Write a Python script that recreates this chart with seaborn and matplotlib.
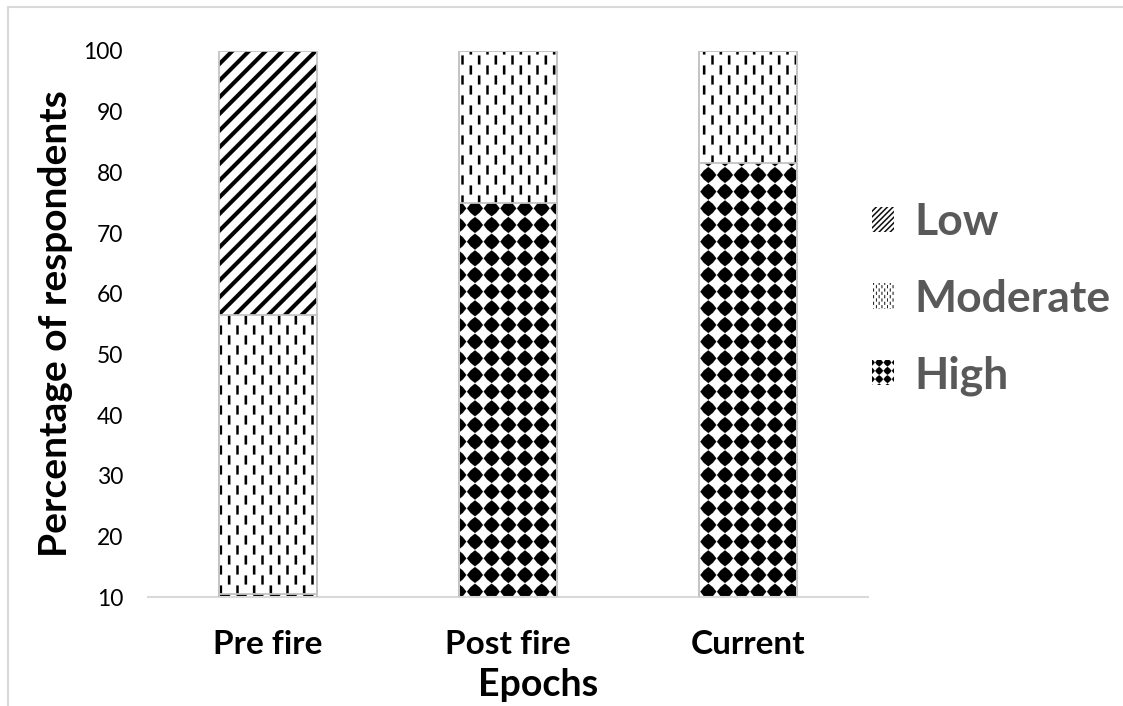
import numpy as np
import pandas as pd
import matplotlib
matplotlib.use("Agg")
import matplotlib.pyplot as plt
import matplotlib.hatch as mhatch
from matplotlib.path import Path
from matplotlib.patches import Patch, Rectangle
import seaborn as sns

# ---- data -------------------------------------------------------------
epochs = ["Pre fire", "Post fire", "Current"]
high = [10.5, 75.0, 81.5]
moderate = [46.0, 25.0, 18.5]
low = [43.5, 0.0, 0.0]
levels = ["Low", "Moderate", "High"]
y_ticks = [10, 20, 30, 40, 50, 60, 70, 80, 90, 100]


# ---- fill patterns (wide diagonal, dashed vertical, solid diamond) ----
class _TilePattern(mhatch.HatchPatternBase):
    """Filled polygons tiled inside the unit hatch cell."""
    char = None

    def __init__(self, hatch, density):
        reps = hatch.count(self.char)
        self.polys = self.build(reps) if reps else []
        self.num_vertices = sum(len(p) + 1 for p in self.polys)

    def build(self, reps):
        return []

    def set_vertices_and_codes(self, vertices, codes):
        i = 0
        for poly in self.polys:
            n = len(poly)
            vertices[i:i + n] = poly
            vertices[i + n] = poly[0]
            codes[i] = Path.MOVETO
            codes[i + 1:i + n] = Path.LINETO
            codes[i + n] = Path.CLOSEPOLY
            i += n + 1


class WideDiagonal(_TilePattern):
    char = "/"

    def build(self, reps):
        n = 6 * reps
        h = 0.028 / reps
        y0, y1 = -0.1, 1.1
        polys = []
        for k in range(-n - 2, n + 3):
            c = k / n
            polys.append(np.array([[c - h + y0, y0], [c + h + y0, y0],
                                   [c + h + y1, y1], [c - h + y1, y1]]))
        return polys


class DashedVertical(_TilePattern):
    char = "|"

    def build(self, reps):
        ncol, nrow = 12 * reps, 5 * reps
        w, ln = 0.012 / reps, 0.045 / reps
        polys = []
        for i in range(ncol):
            x = (i + 0.5) / ncol
            shift = 0.5 if i % 2 else 0.0
            for j in range(-1, nrow + 1):
                y = (j + 0.5 + shift) / nrow
                polys.append(np.array([[x - w, y - ln], [x + w, y - ln],
                                       [x + w, y + ln], [x - w, y + ln]]))
        return polys


class SolidDiamond(_TilePattern):
    char = "+"

    def build(self, reps):
        n = 6 * reps
        r_axis, r_diag = 0.48 / n, 0.38 / n
        ang = np.arange(8) * np.pi / 4
        rad = np.where(np.arange(8) % 2 == 0, r_axis, r_diag)
        shape = np.column_stack([rad * np.cos(ang), rad * np.sin(ang)])
        polys = []
        for i in range(n):
            for j in range(n):
                polys.append(shape + [(i + 0.5) / n, (j + 0.5) / n])
        return polys


mhatch._hatch_types = [WideDiagonal, DashedVertical, SolidDiamond]

# ---- style --------------------------------------------------------------
sns.set_theme(style="white")
plt.rcParams["font.family"] = ["Lato", "DejaVu Sans"]
plt.rcParams["hatch.linewidth"] = 0.1
plt.rcParams["hatch.color"] = "black"

fig = plt.figure(figsize=(11.23, 7.06), dpi=100)
ax = fig.add_axes([148 / 1123, 109 / 706, 720 / 1123, 546 / 706])

# stacked bars: draw cumulative totals from the top layer down
cum_high = np.array(high)
cum_mod = cum_high + np.array(moderate)
cum_low = cum_mod + np.array(low)
layers = [(cum_low, "/"), (cum_mod, "|"), (cum_high, "+")]

bar_width = 0.41
for totals, pattern in layers:
    df = pd.DataFrame({"Epoch": epochs, "Total": totals})
    sns.barplot(data=df, x="Epoch", y="Total", ax=ax, color="white",
                saturation=1, width=bar_width, edgecolor="black",
                linewidth=0, hatch=pattern, errorbar=None)

bars = list(ax.patches)
for p in bars:
    ax.add_patch(Rectangle(p.get_xy(), p.get_width(), p.get_height(),
                           fill=False, edgecolor="#c4c4c4", linewidth=1.3,
                           zorder=3))

ax.set_xlim(-0.5, 2.5)
ax.set_ylim(10, 100)
ax.set_yticks(y_ticks)
ax.set_yticklabels([str(t) for t in y_ticks], fontsize=16.5, color="black")
ax.tick_params(axis="y", length=0, pad=18)
ax.tick_params(axis="x", length=0, pad=24)
for lab in ax.get_xticklabels():
    lab.set_fontsize(24)
    lab.set_fontweight("bold")
    lab.set_color("black")

for side in ["left", "right", "top"]:
    ax.spines[side].set_visible(False)
ax.spines["bottom"].set_color("#d9d9d9")
ax.spines["bottom"].set_linewidth(1.5)
ax.grid(False)

ax.set_xlabel("Epochs", fontsize=27, fontweight="bold", color="black")
ax.xaxis.set_label_coords(0.542, -0.161)
ax.xaxis.label.set_va("center")
ax.set_ylabel("Percentage of respondents", fontsize=28, fontweight="bold",
              color="black")
ax.yaxis.set_label_coords(-0.129, 0.5)
ax.yaxis.label.set_va("center")

handles = [Patch(facecolor="white", edgecolor="black", linewidth=0,
                 hatch=h) for h in ["///", "|||", "++"]]
fig.legend(handles, levels, loc="center left",
           bbox_to_anchor=(872 / 1123, 1 - 299 / 706), frameon=False,
           prop={"family": "Lato", "weight": "bold", "size": 32},
           labelcolor="#595959", handlelength=0.5, handleheight=0.5,
           handletextpad=0.45, labelspacing=0.82, borderpad=0,
           borderaxespad=0)

# light frame around the chart area
fig.add_artist(Rectangle((8 / 1123, -0.1), 2.0, 0.1 + (706 - 7) / 706,
                         transform=fig.transFigure, fill=False,
                         edgecolor="#d9d9d9", linewidth=1.5))

fig.savefig("out.png", dpi=100)
